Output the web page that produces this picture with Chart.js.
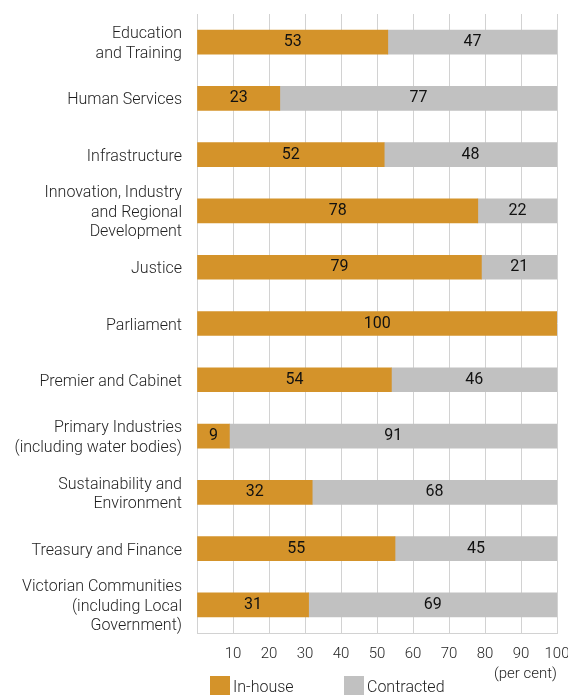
<!DOCTYPE html>
<html>
<head>
<meta charset="utf-8">
<script src="https://cdn.jsdelivr.net/npm/chart.js@4.4.0/dist/chart.umd.min.js"></script>
<style>
  html, body { margin: 0; padding: 0; background: #fff; }
  #grafico { display: block; }
</style>
</head>
<body>
<canvas id="grafico" width="568" height="695"></canvas>
<script>
// Departamentos (etiquetas de varias líneas)
const departamentos = [
    ['Education', 'and Training'],
    'Human Services',
    'Infrastructure',
    ['Innovation, Industry', 'and Regional', 'Development'],
    'Justice',
    'Parliament',
    'Premier and Cabinet',
    ['Primary Industries', '(including water bodies)'],
    ['Sustainability and', 'Environment'],
    'Treasury and Finance',
    ['Victorian Communities', '(including Local', 'Government)']
];

// Porcentajes por departamento
const inHouse    = [53, 23, 52, 78, 79, 100, 54, 9, 32, 55, 31];
const contracted = [47, 77, 48, 22, 21, 0, 46, 91, 68, 45, 69];

// Marcas del eje X
const ticksX = [0, 10, 20, 30, 40, 50, 60, 70, 80, 90, 100];

const FUENTE = 'Roboto, "Liberation Sans", Arial, sans-serif';
const PESO = 300;
const COLOR_TEXTO = '#1e1e1e';
const COLOR_GRID = '#d2d2d2';

// Números dentro de cada tramo de barra
const etiquetasValores = {
    id: 'etiquetasValores',
    afterDatasetsDraw(chart) {
        const ctx = chart.ctx;
        ctx.save();
        ctx.font = '16px ' + FUENTE;
        ctx.fillStyle = '#111';
        ctx.textAlign = 'center';
        ctx.textBaseline = 'middle';
        chart.data.datasets.forEach((ds, i) => {
            const meta = chart.getDatasetMeta(i);
            meta.data.forEach((bar, j) => {
                const v = ds.data[j];
                if (!v) return;
                const cx = (bar.x + bar.base) / 2;
                ctx.fillText(String(v), cx, bar.y);
            });
        });
        ctx.restore();
    }
};

// Leyenda abajo, alineada con el área del gráfico
const leyenda = {
    id: 'leyenda',
    afterDraw(chart) {
        const ctx = chart.ctx;
        const area = chart.chartArea;
        const items = [
            { x: area.left + 13, ds: chart.data.datasets[0] },
            { x: area.left + 147, ds: chart.data.datasets[1] }
        ];
        ctx.save();
        ctx.font = PESO + ' 16px ' + FUENTE;
        ctx.textBaseline = 'middle';
        ctx.textAlign = 'left';
        items.forEach(it => {
            ctx.fillStyle = it.ds.backgroundColor;
            ctx.fillRect(it.x, 676, 20, 20);
            ctx.fillStyle = COLOR_TEXTO;
            ctx.fillText(it.ds.label, it.x + 23, 688);
        });
        ctx.restore();
    }
};

new Chart(document.getElementById('grafico').getContext('2d'), {
    type: 'bar',
    data: {
        labels: departamentos,
        datasets: [{
            label: 'In-house',
            data: inHouse,
            backgroundColor: '#d4932a',
            borderWidth: 0,
            barThickness: 24
        }, {
            label: 'Contracted',
            data: contracted,
            backgroundColor: '#c1c1c1',
            borderWidth: 0,
            barThickness: 24
        }]
    },
    options: {
        indexAxis: 'y',
        responsive: false,
        animation: false,
        layout: { padding: { top: 14, right: 11, left: 0, bottom: 0 } },
        plugins: {
            legend: { display: false },
            tooltip: { enabled: false }
        },
        scales: {
            x: {
                stacked: true,
                min: 0,
                max: 100,
                afterBuildTicks(scale) {
                    scale.ticks = ticksX.map(v => ({ value: v }));
                },
                afterFit(scale) {
                    scale.height = 62;
                    scale.paddingLeft = 0;
                    scale.paddingRight = 0;
                },
                grid: { color: COLOR_GRID, lineWidth: 1, drawTicks: false },
                border: { display: true, color: COLOR_GRID, width: 1 },
                ticks: {
                    padding: 12,
                    color: COLOR_TEXTO,
                    font: { family: FUENTE, size: 15, weight: PESO },
                    maxRotation: 0,
                    autoSkip: false,
                    callback: v => (v === 0 ? '' : v)
                },
                title: {
                    display: true,
                    text: '(per cent)',
                    align: 'end',
                    color: COLOR_TEXTO,
                    font: { family: FUENTE, size: 15, weight: PESO, lineHeight: 1.3 },
                    padding: { top: 0, bottom: 11 }
                }
            },
            y: {
                stacked: true,
                afterFit(scale) {
                    scale.width = 197;
                    scale.paddingTop = 0;
                    scale.paddingBottom = 0;
                },
                grid: { display: false, drawTicks: false },
                border: { display: true, color: COLOR_GRID, width: 1 },
                ticks: {
                    padding: 15,
                    labelOffset: 2,
                    color: COLOR_TEXTO,
                    font: { family: FUENTE, size: 16, weight: PESO, lineHeight: 1.22 },
                    autoSkip: false
                }
            }
        }
    },
    plugins: [etiquetasValores, leyenda]
});
</script>
</body>
</html>
